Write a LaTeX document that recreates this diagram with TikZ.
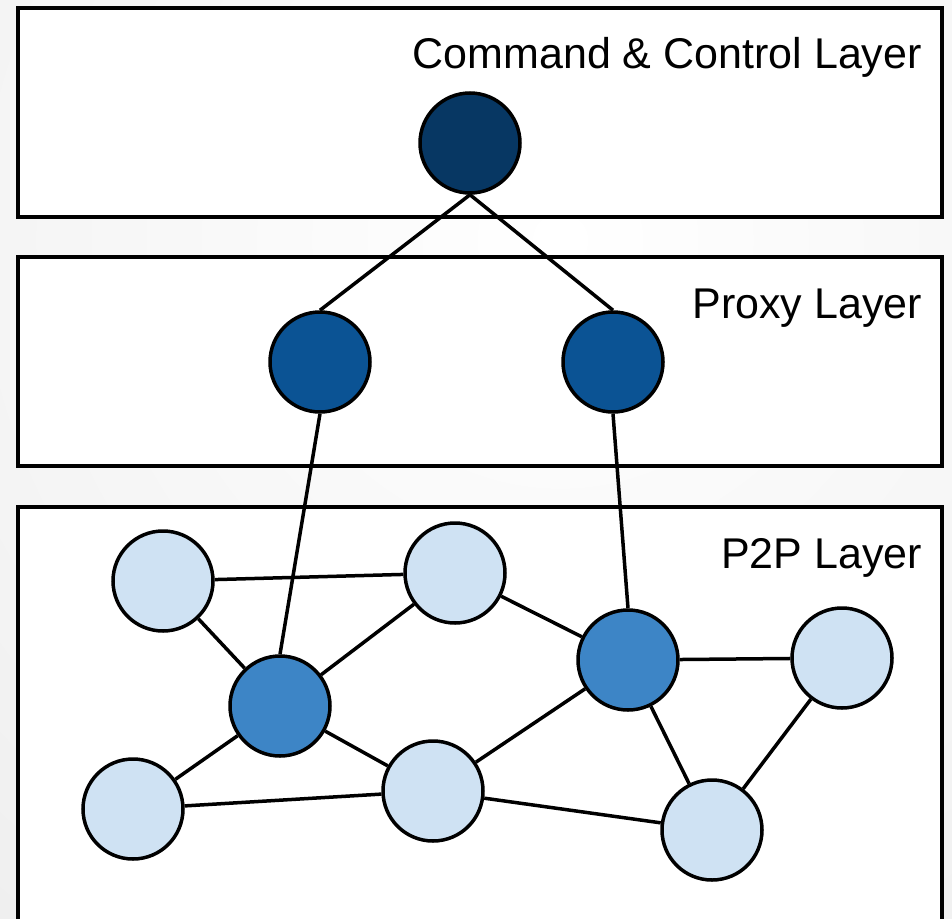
\documentclass[tikz,border=0pt]{standalone}
\usepackage{fontspec}
\setmainfont{Liberation Sans}
\usetikzlibrary{shadows}
\definecolor{ccnavy}{HTML}{073763}
\definecolor{proxyblue}{HTML}{0B5394}
\definecolor{superblue}{HTML}{3D85C6}
\definecolor{peerlight}{HTML}{CFE2F3}
\definecolor{bggrey}{HTML}{E2E2E2}
\begin{document}
\begin{tikzpicture}[x=1pt,y=-1pt,
	layer/.style={draw, line width=3.5pt, fill=white,
		drop shadow={shadow xshift=2pt, shadow yshift=-2pt, opacity=.3}},
	peer/.style={circle, draw, line width=3.5pt, minimum size=100pt, inner sep=0pt},
	link/.style={line width=3.5pt},
	title/.style={anchor=base east, inner sep=0pt, font=\fontsize{43}{51}\selectfont}]
	%
	\def\right{942}
	\def\textx{922}
	%
	\useasboundingbox (0,0) rectangle (952,918);
	\begin{scope}
		\clip (0,0) rectangle (952,918);
		\shade[inner color=white, outer color=bggrey] (560,240) circle (1600);
		\foreach \top/\bot in {8/217,257/466,507/970}
			\draw[layer] (18,\top) rectangle (\right,\bot);
	\end{scope}
	%
	\node[title] (cctitle) at (\textx,68) {Command \& Control Layer};
	\node[title] (proxytitle) at (\textx,318) {Proxy Layer};
	\node[title] (p2ptitle) at (\textx,568) {P2P Layer};
	%
	\node[peer, fill=ccnavy] (cc) at (470,143) {};
	\node[peer, fill=proxyblue] (proxyA) at (320,362) {};
	\node[peer, fill=proxyblue] (proxyB) at (613,362) {};
	\foreach \name/\x/\y in {superA/280/706,superB/628/660}
		\node[peer, fill=superblue] (\name) at (\x,\y) {};
	\foreach \name/\x/\y in {peerA/163/581,peerB/455/573,peerC/842/658,peerD/133/809,peerE/433/791,peerF/712/830}
		\node[peer, fill=peerlight] (\name) at (\x,\y) {};
	%
	\draw[link] (cc.south) -- (proxyA.north);
	\draw[link] (cc.south) -- (proxyB.north);
	\draw[link] (proxyA.south) -- (superA.north);
	\draw[link] (proxyB.south) -- (superB.north);
	\foreach \a/\b in {peerA/peerB,peerA/superA,superA/peerB,peerB/superB,superB/peerC,%
		superA/peerD,superA/peerE,peerE/superB,peerD/peerE,peerE/peerF,superB/peerF,peerC/peerF}
		\draw[link] (\a) -- (\b);
\end{tikzpicture}
\end{document}
